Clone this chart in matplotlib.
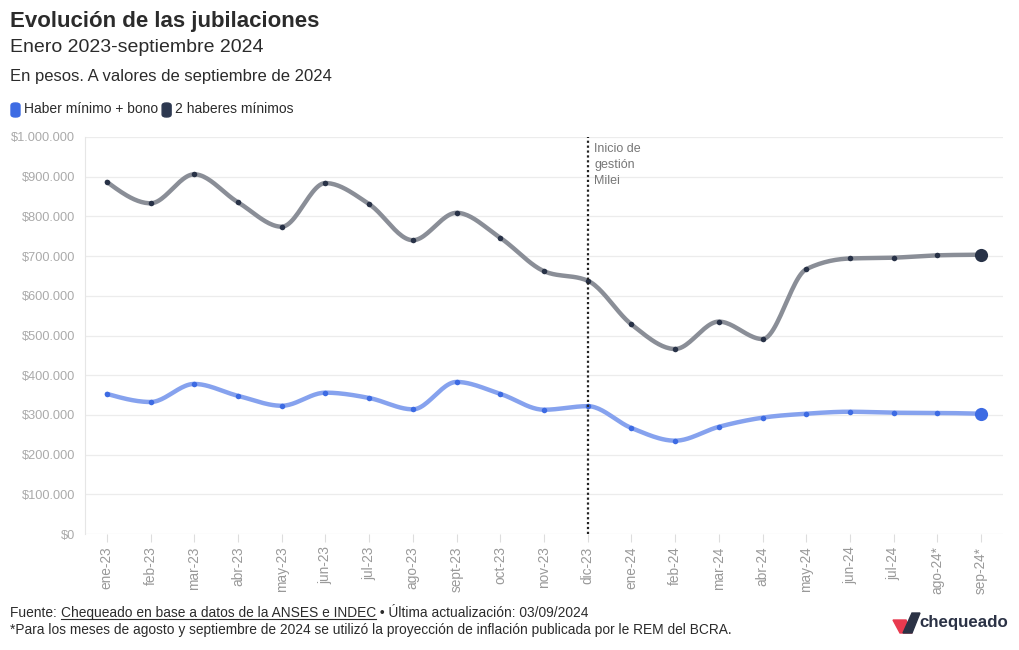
import numpy as np
import matplotlib
matplotlib.use("Agg")
import matplotlib.pyplot as plt
from matplotlib.patches import FancyBboxPatch, Polygon
from matplotlib.ticker import FuncFormatter

# datos (en pesos, a valores de septiembre de 2024)
meses = ['ene-23', 'feb-23', 'mar-23', 'abr-23', 'may-23', 'jun-23', 'jul-23',
         'ago-23', 'sept-23', 'oct-23', 'nov-23', 'dic-23', 'ene-24', 'feb-24',
         'mar-24', 'abr-24', 'may-24', 'jun-24', 'jul-24', 'ago-24*', 'sep-24*']
haber_bono = [353000, 332500, 378000, 348000, 323000, 356000, 342600, 314000,
              383000, 353000, 313000, 322000, 267000, 235000, 270000, 293000,
              303000, 308000, 305500, 305000, 303000]
dos_haberes = [887000, 833000, 906000, 835500, 774000, 884000, 831000, 740000,
               809000, 746000, 662000, 638000, 528000, 466000, 535000, 491000,
               667000, 694000, 696000, 702000, 703500]
inicio_milei = 'dic-23'

plt.rcParams['font.family'] = ['Liberation Sans', 'DejaVu Sans']

BLUE_LINE = '#86a2ee'
BLUE_DOT = '#3d6be3'
GREY_LINE = '#8a8e97'
DARK_DOT = '#283247'
TXT = '#2b2b2b'


def monotone(x, y, n=24):
    # curva monotona tipo d3.curveMonotoneX
    x = np.asarray(x, float); y = np.asarray(y, float)
    h = np.diff(x); s = np.diff(y) / h
    m = np.zeros_like(y)
    for i in range(1, len(y) - 1):
        p = (s[i - 1] * h[i] + s[i] * h[i - 1]) / (h[i - 1] + h[i])
        m[i] = (np.sign(s[i - 1]) + np.sign(s[i])) * min(abs(s[i - 1]), abs(s[i]), 0.5 * abs(p))
    m[0] = (3 * s[0] - m[1]) / 2
    m[-1] = (3 * s[-1] - m[-2]) / 2
    xs, ys = [], []
    for i in range(len(x) - 1):
        t = np.linspace(0, 1, n, endpoint=False)
        h00 = 2 * t**3 - 3 * t**2 + 1
        h10 = t**3 - 2 * t**2 + t
        h01 = -2 * t**3 + 3 * t**2
        h11 = t**3 - t**2
        xs.append(x[i] + t * h[i])
        ys.append(h00 * y[i] + h10 * h[i] * m[i] + h01 * y[i + 1] + h11 * h[i] * m[i + 1])
    xs.append([x[-1]]); ys.append([y[-1]])
    return np.concatenate(xs), np.concatenate(ys)


fig = plt.figure(figsize=(10.2, 6.5), dpi=100)
ax = fig.add_axes([85 / 1020, 1 - 534 / 650, 918 / 1020, 397 / 650])

x = np.arange(len(meses))
for vals, lc, dc in [(dos_haberes, GREY_LINE, DARK_DOT), (haber_bono, BLUE_LINE, BLUE_DOT)]:
    sx, sy = monotone(x, vals)
    ax.plot(sx, sy, color=lc, lw=3.2, solid_capstyle='round', zorder=3)
    ax.scatter(x[:-1], vals[:-1], s=16, color=dc, zorder=4, lw=0)
    ax.scatter(x[-1:], vals[-1:], s=90, color=dc, zorder=4, lw=0)

xm = meses.index(inicio_milei)
ax.axvline(xm, color='#222222', lw=1.6, ls=(0, (1, 1.2)), zorder=5)
ax.text(xm + 0.15, 985000, 'Inicio de\ngestión\nMilei', fontsize=9, color='#777777',
        va='top', ha='left', linespacing=1.42)

ax.set_xlim(-0.5, len(meses) - 0.5)
ax.set_ylim(0, 1000000)
ax.set_yticks(np.arange(0, 1000001, 100000))
ax.yaxis.set_major_formatter(FuncFormatter(lambda v, p: '$' + f'{int(v):,}'.replace(',', '.')))
ax.set_xticks(x)
ax.set_xticklabels(meses, rotation=90)
ax.tick_params(axis='x', colors='#dddddd', labelcolor='#999999', labelsize=9.8, length=6, pad=3)
ax.tick_params(axis='y', length=0, labelcolor='#aaaaaa', labelsize=9.2, pad=7)
ax.grid(axis='y', color='#ececec', lw=0.9)
ax.set_axisbelow(True)
for k in ['top', 'right', 'bottom']:
    ax.spines[k].set_visible(False)
ax.spines['left'].set_color('#e6e6e6')

# titulos
fig.text(10 / 1020, 1 - 22 / 650, 'Evolución de las jubilaciones', fontsize=16,
         fontweight='bold', color=TXT, va='center')
fig.text(10 / 1020, 1 - 48 / 650, 'Enero 2023-septiembre 2024', fontsize=14, color=TXT, va='center')
fig.text(10 / 1020, 1 - 77 / 650, 'En pesos. A valores de septiembre de 2024', fontsize=12,
         color=TXT, va='center')

# leyenda
fig.canvas.draw()
r = fig.canvas.get_renderer()
lx = 11
for lab, c in [('Haber mínimo + bono', BLUE_DOT), ('2 haberes mínimos', '#2d3850')]:
    fig.patches.append(FancyBboxPatch((lx / 1020, 1 - 117 / 650), 9 / 1020, 14 / 650,
                                      boxstyle='round,pad=0,rounding_size=0.004',
                                      transform=fig.transFigure, color=c))
    t = fig.text((lx + 13) / 1020, 1 - 109 / 650, lab, fontsize=10, color=TXT, va='center')
    lx = t.get_window_extent(r).x1 + 4

# pie
xf = 10
pieces = [('Fuente: ', False), ('Chequeado en base a datos de la ANSES e INDEC', True),
          (' • Última actualización: 03/09/2024', False)]
for txt, und in pieces:
    t = fig.text(xf / 1020, 1 - 617 / 650, txt, fontsize=9.9, color=TXT, va='baseline')
    bb = t.get_window_extent(r)
    if und:
        fig.add_artist(plt.Line2D([bb.x0 / 1020, bb.x1 / 1020], [1 - 619 / 650] * 2,
                                  color=TXT, lw=0.8, transform=fig.transFigure))
    xf = bb.x1
fig.text(10 / 1020, 1 - 634 / 650,
         '*Para los meses de agosto y septiembre de 2024 se utilizó la proyección de inflación '
         'publicada por le REM del BCRA.', fontsize=9.9, color=TXT, va='baseline')

# logo
def fp(pts):
    return [(px / 1020, 1 - py / 650) for px, py in pts]
fig.patches.append(Polygon(fp([(893, 620), (906, 620), (912, 633), (900, 633)]),
                           closed=True, color='#e83a4f', transform=fig.transFigure))
fig.patches.append(Polygon(fp([(912, 613), (920, 613), (912, 633), (903, 633)]),
                           closed=True, color='#2b3245', transform=fig.transFigure))
fig.text(919 / 1020, 1 - 623 / 650, 'chequeado', fontsize=12.2, fontweight='bold',
         color='#2b3245', va='center')

fig.savefig('out.png', dpi=100, facecolor='white')
